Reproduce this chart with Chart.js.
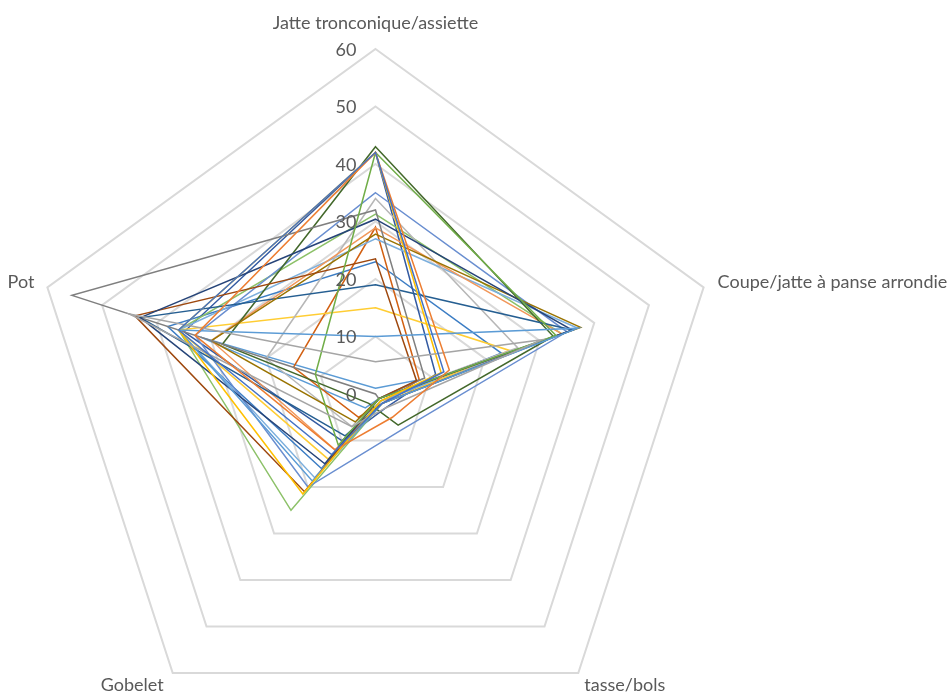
<!DOCTYPE html>
<html>
<head>
<meta charset="utf-8">
<script src="https://cdn.jsdelivr.net/npm/chart.js@4/dist/chart.umd.min.js"></script>
<style>
  html, body { margin: 0; padding: 0; background: #ffffff; }
  canvas { display: block; }
</style>
</head>
<body>
<canvas id="chart" width="948" height="693"></canvas>
<script>
// axis categories
const categories = ["Jatte tronconique/assiette", "Coupe/jatte à panse arrondie", "tasse/bols", "Gobelet", "Pot"];
const tickValues = [0, 10, 20, 30, 40, 50, 60];

// one row per series: [Jatte, Coupe, tasse, Gobelet, Pot]
const s01 = [42, 12.5, 2, 13, 36];
const s02 = [42, 13.5, 5, 12, 33];
const s03 = [5.6, 30.5, 3, 7, 45];
const s04 = [42, 12, 1.5, 21.5, 36];
const s05 = [10, 37, 2, 18.7, 36];
const s06 = [42, 33, 1, 11, 11];
const s07 = [30.4, 36, 1, 15, 43];
const s08 = [23.5, 7.5, 1, 21, 44];
const s09 = [32, 9, 1, 0, 55.5];
const s10 = [27.8, 37.5, 1, 6, 30];
const s11 = [19, 36, 2, 9, 43];
const s12 = [43, 32.5, 6.7, 2, 28];
const s13 = [35, 35, 7.7, 20, 33];
const s14 = [28.9, 34, 2, 12, 30];
const s15 = [34, 26, 1, 7, 20];
const s16 = [15, 24.5, 2, 14, 36];
const s17 = [27, 37, 1.5, 18, 36];
const s18 = [31.3, 34, 2, 25, 36];
const s19 = [42, 11, 3, 10, 35];
const s20 = [29, 8, 2, 5, 15];
const s21 = [23, 23, 1.5, 16, 38];
const s22 = [1, 8, 1, 3, 32];

const seriesValues = [s01, s02, s03, s04, s05, s06, s07, s08, s09, s10, s11,
                      s12, s13, s14, s15, s16, s17, s18, s19, s20, s21, s22];
const seriesColors = ["#4472C4", "#ED7D31", "#A5A5A5", "#FFC000", "#5B9BD5", "#70AD47",
                      "#264478", "#9E480E", "#7F7F7F", "#997300", "#255E91", "#43682B",
                      "#698ED0", "#F1975A", "#B7B7B7", "#FFCD33", "#7CAFDD", "#8CC168",
                      "#335AA1", "#D26012", "#3C7DC4", "#5B9BD5"];

const CENTER_X = 375.5, CENTER_Y = 394, RADIUS = 345;

const labelPlugin = {
    id: "excelLabels",
    afterDraw(chart) {
        const scale = chart.scales.r;
        const ctx = chart.ctx;
        ctx.save();
        ctx.fillStyle = "#595959";
        ctx.textBaseline = "middle";

        // tick labels, left of the top axis
        ctx.font = "18px Lato";
        ctx.textAlign = "right";
        scale.ticks.forEach(t => {
            const y = scale.yCenter - scale.getDistanceFromCenterForValue(t.value);
            ctx.fillText(String(t.value), scale.xCenter - 19, y + 1);
        });

        // category labels round the outside
        ctx.font = "18px Lato";
        const offsets = [
            { dx: 0, dy: -26, align: "center" },
            { dx: 14, dy: -5, align: "left" },
            { dx: 6, dy: 12, align: "left" },
            { dx: -9, dy: 12, align: "right" },
            { dx: -13, dy: -5, align: "right" }
        ];
        categories.forEach((label, i) => {
            const p = scale.getPointPosition(i, scale.drawingArea);
            ctx.textAlign = offsets[i].align;
            ctx.fillText(label, p.x + offsets[i].dx, p.y + offsets[i].dy);
        });
        ctx.restore();
    }
};

new Chart(document.getElementById("chart"), {
    type: "radar",
    data: {
        labels: categories,
        datasets: seriesValues.map((vals, i) => ({
            label: "Série " + (i + 1),
            data: vals,
            borderColor: seriesColors[i],
            backgroundColor: "transparent",
            borderWidth: 1.5,
            pointRadius: 0,
            fill: false
        }))
    },
    options: {
        responsive: false,
        animation: false,
        scales: {
            r: {
                min: 0,
                max: 60,
                ticks: { stepSize: 10, display: false },
                grid: { color: "#d9d9d9", lineWidth: 2 },
                angleLines: { display: false },
                pointLabels: { display: false },
                afterFit(scale) {
                    scale.xCenter = CENTER_X;
                    scale.yCenter = CENTER_Y;
                    scale.drawingArea = RADIUS;
                }
            }
        },
        plugins: {
            legend: { display: false },
            tooltip: { enabled: false }
        }
    },
    plugins: [labelPlugin]
});
</script>
</body>
</html>
